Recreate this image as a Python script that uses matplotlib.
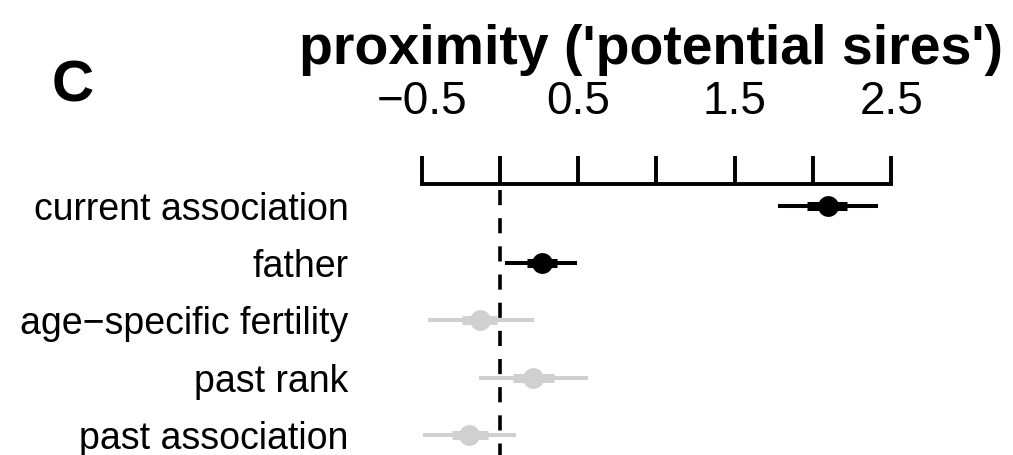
import matplotlib
matplotlib.use("Agg")
import matplotlib.pyplot as plt

plt.rcParams['font.family'] = ['Liberation Sans', 'DejaVu Sans']

# estimates with 50% and 95% intervals
labels = ["current association", "father", "age\u2212specific fertility",
          "past rank", "past association"]
est = [2.094, 0.268, -0.128, 0.213, -0.198]
lo95 = [1.774, 0.032, -0.460, -0.134, -0.490]
hi95 = [2.417, 0.492, 0.217, 0.560, 0.100]
lo50 = [1.960, 0.173, -0.243, 0.085, -0.309]
hi50 = [2.215, 0.364, -0.019, 0.345, -0.075]
colors = ["black", "black", "#d0d0d0", "#d0d0d0", "#d0d0d0"]

xticks = [-0.5, 0, 0.5, 1, 1.5, 2, 2.5]
xticklabels = ["\u22120.5", "", "0.5", "", "1.5", "", "2.5"]

W, H = 1013, 455
fig = plt.figure(figsize=(W / 100, H / 100), dpi=100)
ax = fig.add_axes([400 / W, 0, 600 / W, (H - 184) / H])

rows = list(range(len(labels)))
for i in rows:
    ax.plot([lo95[i], hi95[i]], [i, i], color=colors[i], lw=2.9,
            solid_capstyle='butt', zorder=2)
    ax.plot([lo50[i], hi50[i]], [i, i], color=colors[i], lw=6.5,
            solid_capstyle='butt', zorder=3)
    ax.plot(est[i], i, 'o', color=colors[i], ms=15, mec='none', zorder=4)

ax.vlines(0, -0.27, 4.5, color='black', lw=2.6,
          linestyles=(0, (4.2, 3.6)), zorder=5)

ax.set_xlim(-0.639, 3.195)
ax.set_ylim(4.347, -0.375)

for s in ['left', 'right', 'bottom']:
    ax.spines[s].set_visible(False)
ax.spines['top'].set_bounds(-0.5, 2.5)
ax.spines['top'].set_linewidth(2.8)

ax.xaxis.tick_top()
ax.set_xticks(xticks)
ax.set_xticklabels(xticklabels, fontsize=33)
ax.tick_params(axis='x', direction='out', length=20, width=2.8, pad=23)

ax.set_yticks(rows)
ax.set_yticklabels(labels, fontsize=27)
ax.tick_params(axis='y', length=0, pad=37)

fig.text(651 / W, 1 - 64 / H, "proximity ('potential sires')", fontsize=40,
         fontweight='bold', ha='center', va='baseline')
fig.text(52 / W, 1 - 102 / H, "C", fontsize=42, fontweight='bold',
         ha='left', va='baseline')

fig.savefig("out.png", dpi=100)
